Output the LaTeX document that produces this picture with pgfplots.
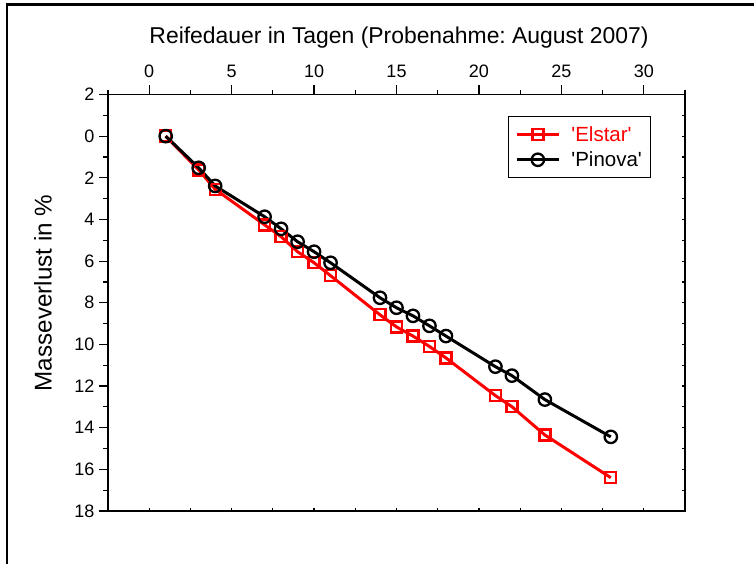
\documentclass[border=0pt]{standalone}
\usepackage{pgfplots}
\pgfplotsset{compat=1.18}
\usepackage{fontspec}
\setmainfont{Liberation Sans}
\definecolor{elred}{RGB}{255,0,0}
\frenchspacing

\pgfplotstableread{
x y
1 0.00
3 1.62
4 2.55
7 4.26
8 4.83
9 5.55
10 6.08
11 6.70
14 8.58
15 9.16
16 9.60
17 10.10
18 10.65
21 12.46
22 12.99
24 14.35
28 16.40
}\elstar

\pgfplotstableread{
x y
1 0.00
3 1.52
4 2.39
7 3.87
8 4.45
9 5.07
10 5.55
11 6.08
14 7.76
15 8.24
16 8.63
17 9.11
18 9.60
21 11.07
22 11.50
24 12.65
28 14.44
}\pinova

\begin{document}
\frenchspacing
\begin{tikzpicture}
\path[use as bounding box] (0pt,0pt) rectangle (754pt,564pt);
\draw[line width=2.5pt] (7pt,0pt) -- (7pt,559.5pt) -- (754pt,559.5pt);

% mirror axes with small inward ticks
\begin{axis}[
  at={(108pt,53pt)}, anchor=south west,
  scale only axis, width=577pt, height=416.5pt,
  xmin=-2.5, xmax=32.5, ymin=-2, ymax=18, y dir=reverse,
  axis line style={line width=1.6pt},
  xtick={-2.5,0,...,32.5}, ytick={-2,-1,...,18},
  xtick pos=left, ytick pos=right,
  xticklabels={}, yticklabels={},
  tick align=inside, major tick length=3.5pt,
  tick style={line width=1.2pt, black},
]
\end{axis}

\begin{axis}[
  at={(108pt,53pt)}, anchor=south west,
  scale only axis, width=577pt, height=416.5pt,
  xmin=-2.5, xmax=32.5, ymin=-2, ymax=18, y dir=reverse,
  axis line style={line width=1.6pt},
  xtick={0,5,...,30}, minor xtick={-2.5,2.5,...,32.5},
  ytick={-2,0,...,18}, yticklabels={2,0,2,4,6,8,10,12,14,16,18},
  minor ytick={-1,1,...,17},
  xtick pos=right, xticklabel pos=right, ytick pos=left,
  tick align=outside, major tick length=9pt, minor tick length=4.7pt,
  tick style={line width=1.2pt, black},
  /pgf/number format/assume math mode=true,
  ticklabel style={font=\fontsize{18}{21}\selectfont},
  xticklabel style={yshift=4pt},
  yticklabel style={xshift=-1pt},
  legend style={at={(0.693,0.949)}, anchor=north west, draw=black, line width=1pt,
    font=\fontsize{20.5}{24}\selectfont, inner xsep=7pt, inner ysep=8pt,
    row sep=5pt, cells={anchor=west},
    /tikz/every odd column/.append style={column sep=9pt}},
  legend image code/.code={\draw[mark repeat=2,mark phase=2,#1] plot coordinates {(0pt,0pt) (21pt,0pt) (42pt,0pt)};},
  clip=false,
]
\addplot[elred, line width=3pt, mark=square, mark size=5.5pt,
  mark options={fill=white, line width=2.3pt, solid}] table[x=x,y=y] {\elstar};
\addlegendentry{\textcolor{elred}{\textquotesingle Elstar\textquotesingle}}
\addplot[black, line width=3pt, mark=o, mark size=6.2pt,
  mark options={fill=white, line width=2.3pt, solid}] table[x=x,y=y] {\pinova};
\addlegendentry{\textquotesingle Pinova\textquotesingle}
\end{axis}

\node[font=\fontsize{22.9}{27}\selectfont] at (399pt,526pt) {Reifedauer in Tagen (Probenahme: August 2007)};
\node[rotate=90, font=\fontsize{24.2}{28}\selectfont] at (43pt,271pt) {Masseverlust in \%};
\end{tikzpicture}
\end{document}
